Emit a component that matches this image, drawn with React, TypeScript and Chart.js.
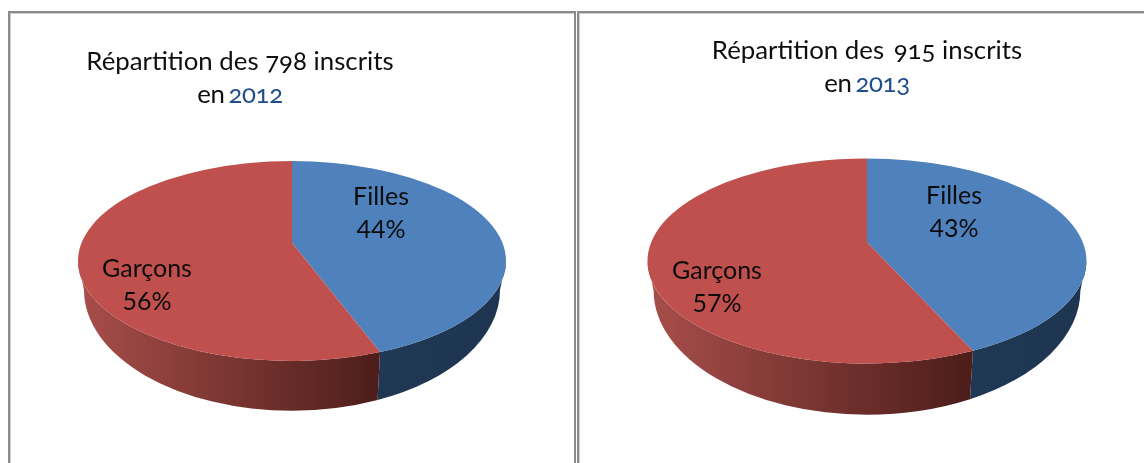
import React, { useEffect, useRef } from "react";
import { Chart, registerables } from "chart.js";

Chart.register(...registerables);

const categories = ["Filles", "Garçons"];
const values2012 = [44, 56];
const values2013 = [43, 57];
const faceColors = ["#4f81bd", "#c0504d"];
const wallColors = [
  ["#1e3552", "#203854"],
  ["#4c1d1a", "#a84e4a"],
];
const FONT = "Lato";

const pie3d = {
  id: "pie3d",
  beforeDatasetsDraw(chart: any, _a: any, o: any) {
    const ctx = chart.ctx;
    const arcs = chart.getDatasetMeta(0).data;
    const a0 = arcs[0];
    const cx = a0.x, cy = a0.y, r = a0.outerRadius;
    const ry = r * 0.467;
    const rb = r * 0.972;
    const cyb = cy + r * 0.135;
    const ryb = r * 0.565;
    const apexY = cy - r * 0.085;
    const k = o.k;
    const param = (ang: number) => {
      const x = Math.cos(ang), y = Math.sin(ang);
      const d = 1 + k * y;
      return Math.atan2((y + k) / d, (x * Math.sqrt(1 - k * k)) / d);
    };
    const spans = arcs.map((arc: any) => {
      let s = param(arc.startAngle);
      let e = param(arc.endAngle);
      while (e <= s) e += Math.PI * 2;
      return [s, e];
    });
    // side walls
    spans.forEach(([s, e]: number[], i: number) => {
      const candidates = [[s, e], [s + Math.PI * 2, e + Math.PI * 2], [s - Math.PI * 2, e - Math.PI * 2]];
      candidates.forEach(([cs, ce]) => {
        const lo = Math.max(cs, 0), hi = Math.min(ce, Math.PI);
        if (hi <= lo) return;
        const xa = cx + r * Math.cos(hi), xb = cx + r * Math.cos(lo);
        const g = ctx.createLinearGradient(xb, 0, xa, 0);
        g.addColorStop(0, wallColors[i][0]);
        g.addColorStop(1, wallColors[i][1]);
        ctx.beginPath();
        ctx.ellipse(cx, cy, r, ry, 0, lo, hi);
        ctx.lineTo(cx + rb * Math.cos(hi), cyb + ryb * Math.sin(hi));
        ctx.ellipse(cx, cyb, rb, ryb, 0, hi, lo, true);
        ctx.closePath();
        ctx.fillStyle = g;
        ctx.fill();
      });
    });
    // top faces
    arcs.forEach((arc: any, i: number) => {
      const [s, e] = spans[i];
      ctx.beginPath();
      ctx.moveTo(cx, apexY);
      ctx.ellipse(cx, cy, r, ry, 0, s, e);
      ctx.closePath();
      ctx.fillStyle = arc.options.backgroundColor;
      ctx.fill();
    });
    // data labels
    ctx.fillStyle = "#0c0c0c";
    ctx.textAlign = "center";
    ctx.textBaseline = "alphabetic";
    ctx.font = `25px ${FONT}`;
    const data = chart.data.datasets[0].data;
    arcs.forEach((_: any, i: number) => {
      const [dx, dy] = o.offsets[i];
      ctx.fillText(chart.data.labels[i], cx + dx, cy + dy);
      ctx.fillText(`${data[i]}%`, cx + dx, cy + dy + 33);
    });
    return false;
  },
};

function Pie({ values, left, width, pad, k, offsets }: any) {
  const ref = useRef<HTMLCanvasElement>(null);
  useEffect(() => {
    const chart = new Chart(ref.current as any, {
      type: "pie",
      data: {
        labels: categories,
        datasets: [{ data: values, backgroundColor: faceColors, borderWidth: 0 }],
      },
      options: {
        animation: false,
        responsive: false,
        layout: { padding: pad },
        plugins: { legend: { display: false }, tooltip: { enabled: false }, pie3d: { k, offsets } },
      } as any,
      plugins: [pie3d as any],
    });
    return () => chart.destroy();
  }, []);
  return (
    <canvas
      ref={ref}
      width={width}
      height={520}
      style={{ position: "absolute", left, top: 0, width, height: 520 }}
    />
  );
}

function Title({ center, y1, y2, count, year, gap }: any) {
  const base: React.CSSProperties = {
    position: "absolute",
    width: 500,
    left: center - 250,
    textAlign: "center",
    fontFamily: FONT,
    fontSize: 25.8,
    lineHeight: "30px",
    color: "#0e0e0e",
    fontVariantNumeric: "oldstyle-nums",
    whiteSpace: "pre",
  };
  return (
    <>
      <div style={{ ...base, top: y1 }}>
        Répartition des <span style={{ marginLeft: gap }}>{count}</span> inscrits
      </div>
      <div style={{ ...base, top: y2, letterSpacing: -0.4 }}>
        en<span style={{ color: "#1f4e8c", marginLeft: 4 }}>{year}</span>
      </div>
    </>
  );
}

const borderColor = "#8c8c8c";

export default function App() {
  useEffect(() => {
    document.body.style.margin = "0";
    document.body.style.overflow = "hidden";
  }, []);
  const panel: React.CSSProperties = {
    position: "absolute",
    top: 11,
    height: 470,
    border: `2px solid ${borderColor}`,
    boxShadow: "inset 0 1px 0 #cfcfcf, inset 1px 0 0 #cfcfcf",
  };
  return (
    <div style={{ position: "fixed", left: 0, top: 0, width: 1144, height: 463, overflow: "hidden", background: "#fff" }}>
      <Pie
        values={values2012}
        left={0}
        width={576}
        pad={{ left: 78, right: 70, top: 47, bottom: 45 }}
        k={-0.12}
        offsets={[[89, -56], [-145, 16]]}
      />
      <Pie
        values={values2013}
        left={578}
        width={566}
        pad={{ left: 69.5, right: 57.5, top: 41.5, bottom: 39.5 }}
        k={-0.14}
        offsets={[[87, -57], [-150, 18]]}
      />
      <Title center={240} y1={45} y2={78} count="798" year="2012" gap={0} />
      <Title center={867} y1={34} y2={67} count="915" year="2013" gap={3} />
      <div style={{ ...panel, left: 8, width: 564 }} />
      <div style={{ ...panel, left: 577, width: 600 }} />
    </div>
  );
}
